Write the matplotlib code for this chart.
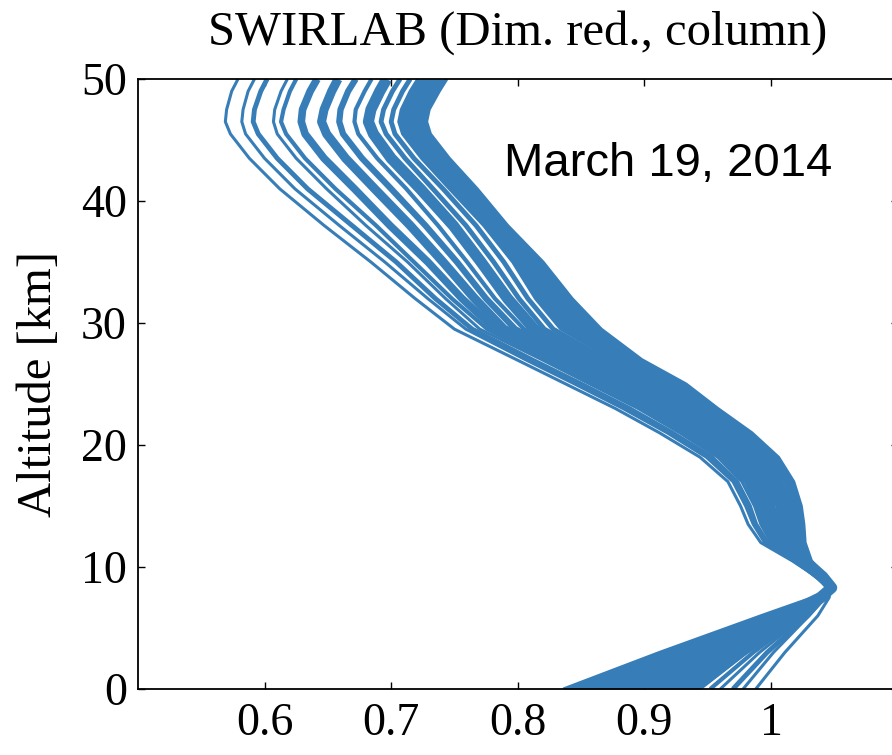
import numpy as np
import matplotlib
matplotlib.use("Agg")
import matplotlib.pyplot as plt

# altitude grid [km] shared by all kernels
altitude = [0, 3, 6, 7.5, 8.3, 9.2, 10.5, 12, 13.5, 15, 17, 19, 21, 23, 25, 27, 29.5,
            32, 35, 38, 41, 43.5, 45.5, 46.5, 47.5, 49, 50]

# column averaging kernels (one list per strand, same order as altitude)
ak_a = [0.988, 1.011, 1.037, 1.046, 1.047, 1.036, 1.017, 0.992, 0.982, 0.976, 0.966, 0.944, 0.912, 0.877,
        0.838, 0.799, 0.750, 0.719, 0.684, 0.647, 0.612, 0.588, 0.573, 0.569, 0.570, 0.574, 0.579]
ak_b = [0.978, 1.002, 1.030, 1.043, 1.047, 1.037, 1.018, 0.995, 0.986, 0.980, 0.970, 0.949, 0.918, 0.883,
        0.845, 0.806, 0.759, 0.729, 0.695, 0.659, 0.624, 0.600, 0.585, 0.582, 0.583, 0.587, 0.592]
ak_c = [0.970, 0.997, 1.029, 1.042, 1.047, 1.037, 1.019, 0.997, 0.988, 0.983, 0.973, 0.953, 0.922, 0.888,
        0.850, 0.811, 0.764, 0.735, 0.704, 0.669, 0.634, 0.610, 0.595, 0.591, 0.592, 0.597, 0.602]
ak_d = [0.960, 0.991, 1.027, 1.043, 1.048, 1.038, 1.020, 1.000, 0.992, 0.987, 0.977, 0.958, 0.928, 0.895,
        0.857, 0.819, 0.770, 0.743, 0.713, 0.680, 0.649, 0.625, 0.610, 0.607, 0.608, 0.613, 0.618]
ak_e = [0.952, 0.986, 1.025, 1.042, 1.048, 1.038, 1.021, 1.001, 0.994, 0.989, 0.980, 0.961, 0.932, 0.899,
        0.861, 0.823, 0.776, 0.748, 0.718, 0.688, 0.656, 0.632, 0.617, 0.613, 0.615, 0.620, 0.625]
ak_f = [0.940, 0.978, 1.022, 1.041, 1.048, 1.038, 1.022, 1.004, 0.997, 0.993, 0.984, 0.966, 0.938, 0.905,
        0.867, 0.829, 0.782, 0.756, 0.729, 0.699, 0.671, 0.647, 0.632, 0.629, 0.630, 0.636, 0.6415]
ak_g = [0.930, 0.971, 1.020, 1.041, 1.048, 1.039, 1.024, 1.008, 1.002, 0.998, 0.989, 0.972, 0.945, 0.913,
        0.874, 0.837, 0.789, 0.766, 0.741, 0.715, 0.687, 0.664, 0.649, 0.645, 0.647, 0.653, 0.658]
ak_h = [0.918, 0.964, 1.017, 1.040, 1.048, 1.040, 1.025, 1.011, 1.005, 1.001, 0.994, 0.977, 0.951, 0.920,
        0.881, 0.844, 0.798, 0.775, 0.752, 0.727, 0.700, 0.677, 0.662, 0.659, 0.660, 0.666, 0.672]
ak_i = [0.905, 0.955, 1.014, 1.039, 1.048, 1.040, 1.026, 1.013, 1.008, 1.005, 0.997, 0.981, 0.956, 0.926,
        0.887, 0.850, 0.805, 0.782, 0.760, 0.737, 0.712, 0.689, 0.674, 0.671, 0.672, 0.679, 0.6845]
ak_j = [0.890, 0.945, 1.010, 1.039, 1.048, 1.041, 1.027, 1.016, 1.012, 1.009, 1.001, 0.986, 0.962, 0.932,
        0.894, 0.857, 0.813, 0.792, 0.771, 0.749, 0.723, 0.700, 0.686, 0.682, 0.684, 0.691, 0.6965]
ak_k = [0.875, 0.936, 1.007, 1.039, 1.049, 1.041, 1.028, 1.018, 1.015, 1.012, 1.005, 0.991, 0.967, 0.938,
        0.900, 0.864, 0.821, 0.801, 0.781, 0.759, 0.733, 0.711, 0.696, 0.692, 0.694, 0.701, 0.707]
ak_l = [0.862, 0.927, 1.004, 1.038, 1.049, 1.042, 1.029, 1.020, 1.018, 1.015, 1.008, 0.994, 0.971, 0.943,
        0.906, 0.870, 0.828, 0.808, 0.789, 0.767, 0.741, 0.718, 0.703, 0.700, 0.702, 0.709, 0.715]
# edges of the dense bundle of kernels
ak_dense_lo = [0.944, 0.981, 1.024, 1.043, 1.049, 1.042, 1.030, 1.022, 1.020, 1.017, 1.011, 0.997, 0.975, 0.947,
               0.911, 0.875, 0.834, 0.814, 0.796, 0.773, 0.746, 0.724, 0.709, 0.706, 0.708, 0.715, 0.721]
ak_dense_hi = [0.836, 0.912, 0.992, 1.033, 1.049, 1.043, 1.032, 1.027, 1.026, 1.024, 1.018, 1.006, 0.985, 0.958,
               0.933, 0.898, 0.866, 0.843, 0.820, 0.792, 0.768, 0.746, 0.731, 0.728, 0.730, 0.738, 0.744]

xticks = [0.6, 0.7, 0.8, 0.9, 1.0]
xticklabels = ["0.6", "0.7", "0.8", "0.9", "1"]
yticks = [0, 10, 20, 30, 40, 50]

blue = "#377eb8"
serif = "Liberation Serif"

fig = plt.figure(figsize=(8.92, 7.55), dpi=100)
ax = fig.add_axes([0.1547, 0.0874, 0.8515, 0.8079])

# dense bundle as a band, then every strand on top
ax.fill_betweenx(altitude, ak_dense_lo, ak_dense_hi, color=blue, lw=0)
strands = [ak_a, ak_b, ak_c, ak_d, ak_e, ak_f, ak_g, ak_h, ak_i, ak_j, ak_k, ak_l, ak_dense_lo, ak_dense_hi]
widths = [2.2, 2.2, 3.5, 2.2, 3.0, 5.5, 6.5, 4.5, 3.0, 8.0, 3.5, 3.5, 2.2, 2.2]
for ak, lw in zip(strands, widths):
    ax.plot(ak, altitude, color=blue, lw=lw, solid_joinstyle="round", solid_capstyle="butt")

ax.set_xlim(0.5, 1.1)
ax.set_ylim(0, 50)
ax.set_xticks(xticks)
ax.set_xticklabels(xticklabels, family=serif)
ax.set_yticks(yticks)
ax.set_yticklabels([str(t) for t in yticks], family=serif)
ax.tick_params(direction="in", length=5, width=1, top=True, right=True, labelsize=33)
ax.tick_params(axis="x", pad=10)
ax.tick_params(axis="y", pad=8)
for sp in ax.spines.values():
    sp.set_linewidth(1.3)

ax.set_title("SWIRLAB (Dim. red., column)", family=serif, fontsize=35, pad=25)
ax.set_ylabel("Altitude [km]", family=serif, fontsize=35)
ax.yaxis.set_label_coords(-0.102, 0.5)
ax.text(0.919, 43.0, "March 19, 2014", family="Liberation Sans", fontsize=34,
        ha="center", va="center")

fig.savefig("out.png", dpi=100)
